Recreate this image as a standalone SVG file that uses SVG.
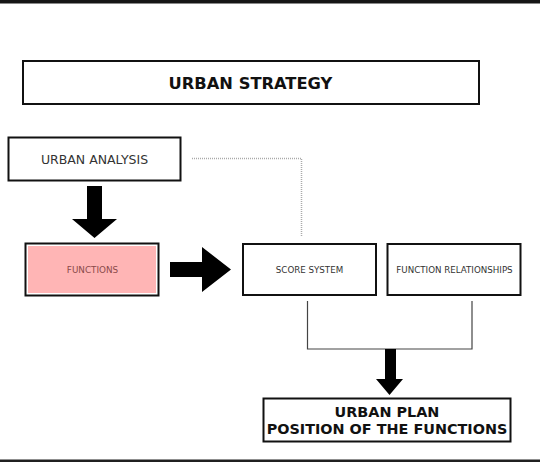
<svg xmlns="http://www.w3.org/2000/svg" width="540" height="462" viewBox="0 0 540 462">
  <style>
    .box { fill: #ffffff; stroke: #111111; stroke-width: 2; }
    .title { font-family: "DejaVu Sans", Verdana, sans-serif; font-weight: bold; fill: #111111; text-anchor: middle; }
    .label { font-family: "DejaVu Sans", Verdana, sans-serif; fill: #333333; text-anchor: middle; }
    .bigarrow { fill: #000000; }
    .link { fill: none; stroke: #444444; stroke-width: 1.2; }
    .dotted { fill: none; stroke: #aaaaaa; stroke-width: 1.5; stroke-dasharray: 1 1; }
  </style>

  <rect x="0" y="0" width="540" height="462" fill="#ffffff"/>
  <!-- frame bars -->
  <rect x="0" y="0" width="540" height="3.5" fill="#151515"/>
  <rect x="0" y="459.5" width="540" height="2.5" fill="#202020"/>

  <g id="connectors">
    <!-- dotted link from analysis to score system -->
    <path class="dotted" d="M192 158.5 H301.5 V237"/>
    <!-- analysis to functions -->
    <polygon class="bigarrow" points="87,186 102,186 102,219 117,219 94.5,238 72,219 87,219"/>
    <!-- functions to score system -->
    <polygon class="bigarrow" points="170,262 202,262 202,247 231,269.5 202,292 202,277 170,277"/>
    <!-- bracket joining score system and relationships -->
    <path class="link" d="M307.5 301 V349 H472 V301"/>
    <!-- down to urban plan -->
    <polygon class="bigarrow" points="385,349 396,349 396,379 403,379 389.5,395 376,379 385,379"/>
  </g>

  <g id="urban-strategy">
    <rect class="box" x="23" y="61" width="456" height="43" stroke="#333333"/>
    <text class="title" x="250.5" y="89" font-size="16.3">URBAN STRATEGY</text>
  </g>

  <g id="urban-analysis">
    <rect class="box" x="8.5" y="137.5" width="172" height="43"/>
    <text class="label" x="94.5" y="163.5" font-size="12.5">URBAN ANALYSIS</text>
  </g>

  <g id="functions">
    <rect x="25.5" y="243.5" width="133" height="52" fill="#ffffff" stroke="#111111" stroke-width="2"/>
    <rect x="28" y="246" width="128" height="47" fill="#ffb5b5"/>
    <text class="label" x="92.5" y="273" font-size="8.8" style="fill:#8a4a4a">FUNCTIONS</text>
  </g>

  <g id="score-system">
    <rect class="box" x="243" y="244" width="133" height="51"/>
    <text class="label" x="309.5" y="273" font-size="8.7">SCORE SYSTEM</text>
  </g>

  <g id="function-relationships">
    <rect class="box" x="387.5" y="244" width="133" height="51"/>
    <text class="label" x="454.5" y="273" font-size="8.7">FUNCTION RELATIONSHIPS</text>
  </g>

  <g id="urban-plan">
    <rect class="box" x="263.5" y="398.5" width="247" height="43" stroke="#333333"/>
    <text class="title" x="387" y="417" font-size="14.4">URBAN PLAN</text>
    <text class="title" x="387" y="433.5" font-size="14.4">POSITION OF THE FUNCTIONS</text>
  </g>
</svg>
